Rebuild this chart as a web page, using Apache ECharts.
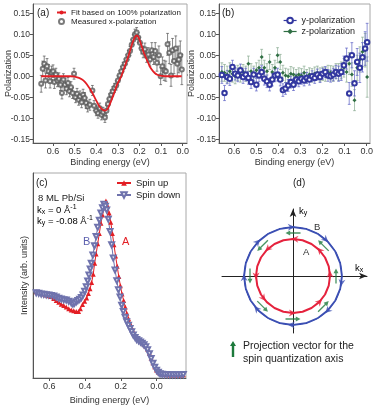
<!DOCTYPE html>
<html>
<head>
<meta charset="utf-8">
<script src="https://cdn.jsdelivr.net/npm/echarts@6/dist/echarts.min.js"></script>
<style>
html, body { margin: 0; padding: 0; background: #fff; }
#chart { width: 374px; height: 407px; }
</style>
</head>
<body>
<div id="chart"></div>
<script>
// (a) 测得的 x 极化 + 拟合曲线
const aEnergy = [0.655, 0.648, 0.641, 0.635, 0.628, 0.621, 0.614, 0.607, 0.600, 0.594, 0.587, 0.580, 0.573, 0.566, 0.559, 0.552, 0.545, 0.538, 0.531, 0.524, 0.517, 0.510, 0.503, 0.496, 0.489, 0.482, 0.475, 0.468, 0.461, 0.454, 0.447, 0.440, 0.430, 0.418, 0.410, 0.400, 0.392, 0.384, 0.376, 0.368, 0.360, 0.353, 0.346, 0.339, 0.331, 0.324, 0.316, 0.308, 0.300, 0.292, 0.284, 0.276, 0.268, 0.260, 0.252, 0.244, 0.236, 0.229, 0.221, 0.213, 0.206, 0.198, 0.190, 0.183, 0.175, 0.167, 0.159, 0.151, 0.143, 0.135, 0.127, 0.119, 0.110, 0.102, 0.094, 0.086, 0.078, 0.070, 0.062, 0.054, 0.047, 0.040, 0.032, 0.025, 0.018, 0.011, 0.004];
const aPol = [-0.018, 0.018, 0.030, -0.010, 0.024, 0.012, -0.012, 0.008, 0.012, -0.014, 0.004, -0.010, -0.006, -0.020, -0.040, -0.008, -0.020, -0.030, -0.016, -0.036, -0.026, -0.040, 0.006, -0.050, -0.042, -0.056, -0.048, -0.062, -0.044, -0.052, -0.064, -0.072, -0.068, -0.034, -0.070, -0.082, -0.088, -0.076, -0.092, -0.086, -0.098, -0.082, -0.066, -0.054, -0.044, -0.036, -0.028, -0.022, -0.010, 0.002, 0.012, 0.022, 0.030, 0.040, 0.050, 0.060, 0.075, 0.087, 0.100, 0.104, 0.092, 0.080, 0.066, 0.058, 0.064, 0.048, 0.052, 0.040, 0.062, 0.046, 0.060, 0.032, 0.050, 0.000, 0.024, 0.014, 0.012, 0.076, 0.056, 0.002, 0.062, 0.036, 0.066, 0.030, 0.040, 0.050, 0.016];
const aErr = [0.020, 0.018, 0.018, 0.018, 0.018, 0.016, 0.016, 0.016, 0.015, 0.015, 0.015, 0.015, 0.014, 0.014, 0.014, 0.014, 0.014, 0.014, 0.013, 0.013, 0.013, 0.013, 0.013, 0.013, 0.013, 0.013, 0.013, 0.013, 0.013, 0.013, 0.013, 0.013, 0.013, 0.012, 0.012, 0.012, 0.012, 0.012, 0.012, 0.012, 0.012, 0.012, 0.012, 0.012, 0.011, 0.011, 0.011, 0.011, 0.011, 0.011, 0.011, 0.011, 0.011, 0.011, 0.011, 0.011, 0.012, 0.012, 0.012, 0.012, 0.012, 0.013, 0.013, 0.014, 0.015, 0.015, 0.016, 0.016, 0.018, 0.018, 0.020, 0.020, 0.022, 0.020, 0.022, 0.024, 0.024, 0.026, 0.026, 0.026, 0.028, 0.030, 0.030, 0.032, 0.032, 0.034, 0.036];
const fitEnergy = [0.655, 0.60, 0.55, 0.52, 0.50, 0.48, 0.46, 0.44, 0.42, 0.40, 0.385, 0.37, 0.36, 0.35, 0.34, 0.329, 0.317, 0.306, 0.294, 0.282, 0.267, 0.252, 0.238, 0.225, 0.213, 0.206, 0.194, 0.182, 0.170, 0.159, 0.145, 0.128, 0.115, 0.10, 0.08, 0.05, 0.005];
const fitPol = [0, 0, 0, 0, -0.001, -0.004, -0.010, -0.022, -0.038, -0.058, -0.072, -0.080, -0.082, -0.079, -0.070, -0.056, -0.040, -0.023, -0.010, 0.003, 0.025, 0.047, 0.070, 0.089, 0.097, 0.094, 0.078, 0.059, 0.044, 0.031, 0.017, 0.007, 0.003, 0.001, 0, 0, 0];

// (b) y / z 极化
const bEnergy = [0.655, 0.643, 0.631, 0.619, 0.607, 0.595, 0.583, 0.571, 0.559, 0.547, 0.535, 0.523, 0.511, 0.499, 0.487, 0.475, 0.463, 0.451, 0.439, 0.427, 0.415, 0.403, 0.391, 0.379, 0.367, 0.355, 0.343, 0.331, 0.319, 0.307, 0.295, 0.283, 0.271, 0.259, 0.247, 0.235, 0.223, 0.211, 0.199, 0.187, 0.175, 0.163, 0.151, 0.139, 0.127, 0.115, 0.103, 0.091, 0.079, 0.067, 0.055, 0.043, 0.031, 0.019, 0.007, -0.002];
const bYPol = [0.003, -0.040, -0.002, -0.006, 0.022, 0.006, 0.002, 0.014, -0.002, 0.004, -0.004, -0.014, 0.004, -0.020, 0.002, 0.010, -0.006, -0.012, -0.020, -0.008, 0.002, 0.004, -0.008, -0.033, -0.029, -0.022, -0.014, -0.020, -0.008, -0.012, -0.006, -0.010, -0.004, -0.008, 0.000, -0.004, 0.004, -0.002, 0.006, 0.010, 0.002, 0.000, 0.004, 0.010, 0.006, 0.010, 0.026, 0.042, -0.041, 0.050, -0.017, 0.034, 0.020, 0.045, 0.066, 0.081];
const bYErr = [0.020, 0.018, 0.016, 0.016, 0.016, 0.015, 0.015, 0.015, 0.015, 0.015, 0.015, 0.015, 0.015, 0.015, 0.015, 0.015, 0.015, 0.015, 0.015, 0.015, 0.015, 0.015, 0.015, 0.015, 0.014, 0.014, 0.014, 0.014, 0.013, 0.013, 0.013, 0.013, 0.013, 0.013, 0.013, 0.013, 0.013, 0.013, 0.013, 0.013, 0.014, 0.014, 0.015, 0.016, 0.018, 0.020, 0.022, 0.025, 0.026, 0.030, 0.030, 0.032, 0.035, 0.035, 0.040, 0.045];
const bZPol = [0.010, 0.008, 0.004, 0.012, 0.006, 0.000, 0.008, 0.004, 0.010, 0.006, 0.030, 0.012, 0.006, 0.014, 0.020, 0.046, 0.020, 0.012, 0.034, 0.010, 0.020, 0.050, 0.034, 0.008, 0.002, 0.000, 0.006, 0.004, 0.000, 0.004, 0.002, 0.008, 0.000, 0.004, 0.002, 0.006, 0.008, 0.004, 0.006, 0.004, 0.010, 0.008, 0.006, 0.012, 0.010, 0.014, 0.020, 0.010, 0.030, 0.004, -0.057, 0.020, 0.040, 0.058, 0.062, -0.002];
const bZErr = [0.022, 0.020, 0.020, 0.020, 0.020, 0.018, 0.018, 0.018, 0.018, 0.018, 0.018, 0.018, 0.018, 0.018, 0.018, 0.018, 0.018, 0.018, 0.018, 0.018, 0.018, 0.018, 0.018, 0.018, 0.017, 0.017, 0.017, 0.016, 0.016, 0.016, 0.016, 0.016, 0.016, 0.016, 0.016, 0.016, 0.016, 0.016, 0.016, 0.016, 0.016, 0.017, 0.018, 0.018, 0.020, 0.020, 0.022, 0.024, 0.026, 0.028, 0.025, 0.030, 0.030, 0.035, 0.040, 0.048];

// (c) 自旋分辨谱
const cUpEnergy = [0.673, 0.659, 0.645, 0.631, 0.617, 0.603, 0.589, 0.575, 0.561, 0.547, 0.533, 0.519, 0.505, 0.491, 0.477, 0.463, 0.449, 0.436, 0.426, 0.414, 0.402, 0.391, 0.381, 0.372, 0.363, 0.354, 0.346, 0.338, 0.329, 0.320, 0.311, 0.302, 0.292, 0.283, 0.274, 0.265, 0.256, 0.247, 0.238, 0.229, 0.220, 0.211, 0.202, 0.193, 0.184, 0.175, 0.166, 0.157, 0.148, 0.139, 0.130, 0.120, 0.110, 0.100, 0.090, 0.080, 0.070, 0.060, 0.050, 0.040, 0.030, 0.020, 0.010, 0.000, -0.010, -0.020, -0.032, -0.045, -0.060, -0.075, -0.090, -0.105, -0.120, -0.135, -0.150];
const cUp = [42.1, 41.8, 41.3, 41.0, 40.5, 40.1, 39.7, 38.8, 37.8, 36.9, 36.0, 35.4, 34.6, 33.8, 33.2, 32.8, 32.4, 32.5, 33.8, 35.8, 37.4, 39.0, 41.2, 43.5, 46.6, 50.6, 56.0, 60.5, 65.5, 70.5, 75.5, 79.5, 83.0, 86.3, 84.0, 80.5, 76.0, 70.5, 65.0, 59.5, 54.5, 49.5, 45.0, 41.0, 37.8, 34.6, 31.6, 29.0, 26.7, 24.6, 22.8, 21.2, 19.9, 19.0, 18.1, 17.4, 16.6, 15.6, 14.2, 12.2, 9.8, 7.5, 5.5, 3.9, 2.9, 2.2, 1.8, 1.7, 1.6, 1.6, 1.5, 1.6, 1.5, 1.5, 1.6];
const cDownEnergy = [0.673, 0.659, 0.645, 0.631, 0.617, 0.603, 0.589, 0.575, 0.561, 0.547, 0.533, 0.519, 0.505, 0.491, 0.477, 0.468, 0.459, 0.449, 0.440, 0.430, 0.420, 0.411, 0.402, 0.393, 0.385, 0.378, 0.371, 0.365, 0.356, 0.347, 0.338, 0.329, 0.320, 0.311, 0.302, 0.294, 0.286, 0.279, 0.270, 0.260, 0.251, 0.242, 0.232, 0.222, 0.213, 0.204, 0.195, 0.186, 0.176, 0.167, 0.157, 0.148, 0.139, 0.130, 0.120, 0.111, 0.100, 0.090, 0.080, 0.070, 0.060, 0.050, 0.040, 0.030, 0.020, 0.010, 0.000, -0.010, -0.020, -0.032, -0.045, -0.060, -0.075, -0.090, -0.105, -0.120, -0.135, -0.150];
const cDown = [41.6, 41.3, 41.0, 40.8, 40.6, 40.5, 40.3, 40.0, 39.5, 38.9, 38.5, 38.2, 38.0, 37.4, 36.7, 36.1, 36.5, 37.2, 37.8, 38.4, 39.3, 40.5, 42.3, 44.5, 47.3, 50.2, 53.2, 56.0, 60.0, 64.5, 69.0, 73.5, 77.0, 80.5, 83.0, 84.7, 83.8, 82.0, 77.5, 71.5, 65.0, 58.5, 52.7, 47.5, 43.0, 39.5, 35.5, 32.5, 29.6, 27.5, 25.7, 24.2, 22.6, 21.0, 19.8, 18.8, 18.2, 17.6, 17.0, 16.2, 15.2, 13.8, 11.8, 9.5, 7.2, 5.3, 3.8, 2.8, 2.1, 1.8, 1.7, 1.7, 1.6, 1.6, 1.6, 1.6, 1.6, 1.7];

// (d) 示意图
const ringAngles = [0, 15, 30, 45, 60, 75, 90, 105, 120, 135, 150, 165, 180, 195, 210, 225, 240, 255, 270, 285, 300, 315, 330, 345, 360];
const innerRadius = 37;
const outerRadius = 49;
const spinRadius = 43;
const innerArrowAngles = [87, 44, 3, 316, 269, 217, 180, 133];
const outerArrowAngles = [92, 48, 352, 315, 268, 222, 182, 136];
const spinAngles = [90, 45, 0, 315, 270, 225, 180, 135];

// 刻度
const energyTicks = [0, 0.1, 0.2, 0.3, 0.4, 0.5, 0.6];
const energyTicksC = [0, 0.2, 0.4, 0.6];
const polTicks = [-0.15, -0.10, -0.05, 0, 0.05, 0.10, 0.15];

const FONT = 'Liberation Sans, Arial, sans-serif';
const RED = '#e31e24';
const BLUE = '#3338a0';
const GREEN = '#2f6e43';

const zip2 = (xs, ys) => xs.map((x, i) => [x, ys[i]]);
const zip3 = (xs, ys, es) => xs.map((x, i) => [x, ys[i], es[i]]);

function errorBars(color) {
  return function (params, api) {
    const x = api.value(0), y = api.value(1), e = api.value(2);
    const hi = api.coord([x, y + e]);
    const lo = api.coord([x, y - e]);
    const cap = 1.4;
    const style = { stroke: color, lineWidth: 0.7, fill: null };
    return {
      type: 'group',
      children: [
        { type: 'line', shape: { x1: hi[0], y1: hi[1], x2: lo[0], y2: lo[1] }, style: style },
        { type: 'line', shape: { x1: hi[0] - cap, y1: hi[1], x2: hi[0] + cap, y2: hi[1] }, style: style },
        { type: 'line', shape: { x1: lo[0] - cap, y1: lo[1], x2: lo[0] + cap, y2: lo[1] }, style: style }
      ]
    };
  };
}

function energyAxis(grid, min, max, ticks) {
  return {
    gridIndex: grid, type: 'value', inverse: true, min: min, max: max,
    name: 'Binding energy (eV)', nameLocation: 'middle', nameGap: 15,
    nameTextStyle: { fontSize: 9, color: '#333', fontFamily: FONT },
    axisLine: { onZero: false, lineStyle: { color: '#555', width: 1 } },
    axisTick: { show: true, inside: false, length: 3, customValues: ticks, lineStyle: { color: '#555' } },
    axisLabel: { customValues: ticks, fontSize: 9, color: '#333', margin: 4, fontFamily: FONT,
      hideOverlap: false, formatter: v => v.toFixed(1) },
    splitLine: { show: false }
  };
}

function polAxis(grid, gap) {
  return {
    gridIndex: grid, type: 'value', min: -0.159, max: 0.172,
    name: 'Polarization', nameLocation: 'middle', nameGap: gap, nameMoveOverlap: false,
    nameTextStyle: { fontSize: 9, color: '#333', fontFamily: FONT },
    axisLine: { onZero: false, lineStyle: { color: '#555', width: 1 } },
    axisTick: { show: true, inside: false, length: 3, customValues: polTicks, lineStyle: { color: '#555' } },
    axisLabel: { customValues: polTicks, fontSize: 8.5, color: '#333', margin: 3, fontFamily: FONT,
      formatter: v => v.toFixed(2) },
    splitLine: { show: false }
  };
}

function txt(text, x, y, size, color) {
  return {
    type: 'text', x: x, y: y, silent: true,
    style: { text: text, fontSize: size, fontFamily: FONT, fill: color || '#222',
      textVerticalAlign: 'middle', verticalAlign: 'middle' }
  };
}

function richTxt(text, x, y) {
  return {
    type: 'text', x: x, y: y, silent: true,
    style: { text: text, rich: richK, textVerticalAlign: 'middle', verticalAlign: 'middle' }
  };
}

const richK = {
  n: { fontSize: 9.5, fontFamily: FONT, color: '#222', lineHeight: 12, verticalAlign: 'middle' },
  sub: { fontSize: 7, fontFamily: FONT, color: '#222', lineHeight: 12, verticalAlign: 'bottom' },
  sup: { fontSize: 7, fontFamily: FONT, color: '#222', lineHeight: 12, verticalAlign: 'top' }
};

const chart = echarts.init(document.getElementById('chart'));

const boxGrid = { show: true, borderColor: '#a8a8a8', borderWidth: 1, containLabel: false, outerBoundsMode: 'none' };

chart.setOption({
  animation: false,
  backgroundColor: '#fff',
  textStyle: { fontFamily: FONT },
  grid: [
    Object.assign({ left: 33, top: 4, width: 154, height: 139 }, boxGrid),
    Object.assign({ left: 219, top: 4, width: 151, height: 139 }, boxGrid),
    Object.assign({ left: 33, top: 173, width: 153, height: 205 }, boxGrid),
    { left: 222, top: 209, width: 145, height: 124, show: false, outerBoundsMode: 'none' }
  ],
  xAxis: [
    energyAxis(0, -0.02, 0.693, energyTicks),
    energyAxis(1, -0.015, 0.668, energyTicks),
    energyAxis(2, -0.165, 0.691, energyTicksC),
    {
      gridIndex: 3, type: 'value', min: -71, max: 74,
      axisLine: { show: true, onZero: true, symbol: ['none', 'arrow'], symbolSize: [5, 8],
        lineStyle: { color: '#222', width: 1 } },
      axisTick: { show: false }, axisLabel: { show: false }, splitLine: { show: false }
    }
  ],
  yAxis: [
    polAxis(0, 20),
    polAxis(1, 23),
    {
      gridIndex: 2, type: 'value', min: 0, max: 100,
      name: 'Intensity (arb. units)', nameLocation: 'middle', nameGap: 4,
      nameTextStyle: { fontSize: 9, color: '#333', fontFamily: FONT },
      axisLine: { onZero: false, lineStyle: { color: '#555', width: 1 } },
      axisTick: { show: false }, axisLabel: { show: false }, splitLine: { show: false }
    },
    {
      gridIndex: 3, type: 'value', min: -57, max: 67,
      axisLine: { show: true, onZero: true, symbol: ['none', 'arrow'], symbolSize: [5, 8],
        lineStyle: { color: '#222', width: 1 } },
      axisTick: { show: false }, axisLabel: { show: false }, splitLine: { show: false }
    }
  ],
  polar: { center: [293, 276], radius: 50 },
  radiusAxis: { min: 0, max: 50, show: false },
  angleAxis: { min: 0, max: 360, startAngle: 0, clockwise: false, show: false },
  legend: [
    {
      left: 56, top: 8, padding: 0, orient: 'vertical', itemGap: 0, itemWidth: 9, itemHeight: 5,
      selectedMode: false,
      textStyle: { fontSize: 8, color: '#222', lineHeight: 9, fontFamily: FONT },
      data: ['Fit based on 100% polarization', 'Measured x-polarization']
    },
    {
      left: 283, top: 15, padding: 0, orient: 'vertical', itemGap: 0, itemWidth: 13, itemHeight: 7,
      selectedMode: false, lineStyle: { width: 1.2 },
      textStyle: { fontSize: 9, color: '#222', lineHeight: 11, fontFamily: FONT },
      data: ['y-polarization', 'z-polarization']
    },
    {
      left: 116, top: 177, padding: 0, orient: 'vertical', itemGap: 0, itemWidth: 14, itemHeight: 7,
      selectedMode: false,
      textStyle: { fontSize: 9.5, color: '#222', lineHeight: 12, fontFamily: FONT },
      data: ['Spin up', 'Spin down']
    }
  ],
  series: [
    // (a)
    {
      type: 'custom', xAxisIndex: 0, yAxisIndex: 0, silent: true,
      renderItem: errorBars('#555'), encode: { x: 0, y: 1 },
      data: zip3(aEnergy, aPol, aErr)
    },
    {
      name: 'Measured x-polarization', type: 'scatter', xAxisIndex: 0, yAxisIndex: 0,
      symbol: 'emptyCircle', symbolSize: 4,
      itemStyle: { color: '#5a5a5a', borderWidth: 0.7 },
      data: zip2(aEnergy, aPol)
    },
    {
      name: 'Fit based on 100% polarization', type: 'line', xAxisIndex: 0, yAxisIndex: 0,
      symbol: 'none', smooth: true,
      lineStyle: { color: RED, width: 1.8 }, itemStyle: { color: RED },
      data: zip2(fitEnergy, fitPol)
    },
    // (b)
    {
      type: 'custom', xAxisIndex: 1, yAxisIndex: 1, silent: true,
      renderItem: errorBars('#86a98f'), encode: { x: 0, y: 1 },
      data: zip3(bEnergy, bZPol, bZErr)
    },
    {
      name: 'z-polarization', type: 'line', xAxisIndex: 1, yAxisIndex: 1,
      symbol: 'diamond', symbolSize: 4, showAllSymbol: true,
      lineStyle: { width: 0, color: GREEN }, itemStyle: { color: GREEN },
      data: zip2(bEnergy, bZPol)
    },
    {
      type: 'custom', xAxisIndex: 1, yAxisIndex: 1, silent: true,
      renderItem: errorBars('#5a60c4'), encode: { x: 0, y: 1 },
      data: zip3(bEnergy, bYPol, bYErr)
    },
    {
      name: 'y-polarization', type: 'line', xAxisIndex: 1, yAxisIndex: 1,
      symbol: 'emptyCircle', symbolSize: 4.5, showAllSymbol: true,
      lineStyle: { width: 0, color: BLUE }, itemStyle: { color: BLUE, borderWidth: 1 },
      data: zip2(bEnergy, bYPol)
    },
    // (c)
    {
      name: 'Spin up', type: 'line', xAxisIndex: 2, yAxisIndex: 2,
      symbol: 'triangle', symbolSize: 5, showAllSymbol: true,
      lineStyle: { color: RED, width: 1 }, itemStyle: { color: RED },
      data: zip2(cUpEnergy, cUp)
    },
    {
      name: 'Spin down', type: 'line', xAxisIndex: 2, yAxisIndex: 2,
      symbol: 'emptyTriangle', symbolRotate: 180, symbolSize: 5, showAllSymbol: true,
      lineStyle: { color: '#6f73ad', width: 1 }, itemStyle: { color: '#6f73ad', borderWidth: 0.9 },
      data: zip2(cDownEnergy, cDown)
    },
    // (d)
    {
      type: 'line', coordinateSystem: 'polar', symbol: 'none', silent: true,
      lineStyle: { color: '#3b4fb3', width: 2 },
      data: ringAngles.map(a => [outerRadius, a])
    },
    {
      type: 'line', coordinateSystem: 'polar', symbol: 'none', silent: true,
      lineStyle: { color: '#e5223d', width: 2 },
      data: ringAngles.map(a => [innerRadius, a])
    },
    {
      type: 'scatter', coordinateSystem: 'polar', silent: true,
      symbol: 'path://M5,0 L10,10 L5,7 L0,10 Z', symbolSize: [7, 7],
      symbolRotate: v => v[1] + 180,
      itemStyle: { color: '#3b4fb3' },
      data: outerArrowAngles.map(a => [outerRadius, a])
    },
    {
      type: 'scatter', coordinateSystem: 'polar', silent: true,
      symbol: 'path://M5,0 L10,10 L5,7 L0,10 Z', symbolSize: [7, 7],
      symbolRotate: v => v[1],
      itemStyle: { color: '#e5223d' },
      data: innerArrowAngles.map(a => [innerRadius, a])
    },
    {
      type: 'scatter', coordinateSystem: 'polar', silent: true,
      symbol: 'path://M3,0 L6,5 L3.8,5 L3.8,16 L2.2,16 L2.2,5 L0,5 Z', symbolSize: [5, 15],
      symbolRotate: v => v[1],
      itemStyle: { color: '#1d7a3c' },
      data: spinAngles.map(a => [spinRadius, a])
    }
  ],
  graphic: [
    txt('(a)', 37, 13, 10),
    txt('(b)', 222, 13, 10),
    txt('(c)', 36, 183, 10),
    txt('(d)', 293, 183, 10),
    txt('8 ML Pb/Si', 38, 198, 9.5),
    richTxt('{n|k}{sub|x}{n| = 0 Å}{sup|-1}', 37, 210),
    richTxt('{n|k}{sub|y}{n| = -0.08 Å}{sup|-1}', 37, 221),
    txt('B', 83, 242, 11, '#5b5fae'),
    txt('A', 122, 242, 11, RED),
    txt('B', 314, 227, 9.5, '#333'),
    txt('A', 303, 252, 9.5, '#333'),
    richTxt('{n|k}{sub|y}', 299, 211),
    richTxt('{n|k}{sub|x}', 355, 268),
    {
      type: 'polygon', silent: true,
      shape: { points: [[233, 341], [236, 346], [234.2, 346], [234.2, 357], [231.8, 357], [231.8, 346], [230, 346]] },
      style: { fill: '#1d7a3c' }
    },
    txt('Projection vector for the', 243, 346, 10.5),
    txt('spin quantization axis', 243, 359, 10.5)
  ]
});
</script>
</body>
</html>
